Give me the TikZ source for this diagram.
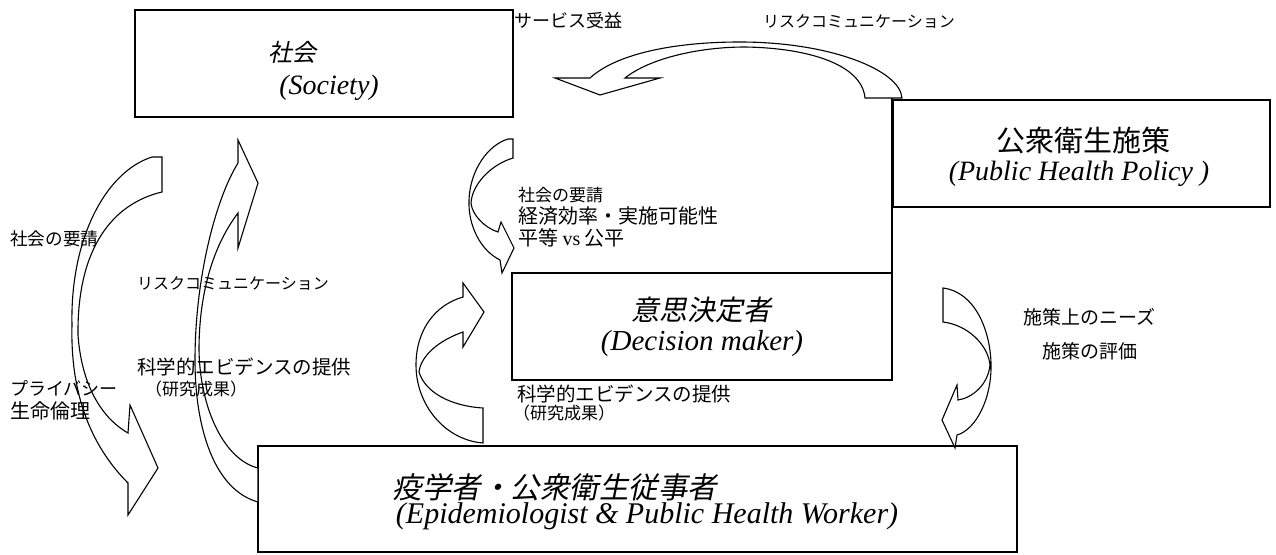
\documentclass[tikz,border=0pt]{standalone}
\usepackage{fontspec}
\setmainfont{Liberation Serif}
\newfontfamily\jp{Noto Sans CJK JP}
\newfontfamily\jpit[FakeSlant=0.2]{Noto Sans CJK JP}
\begin{document}
\begin{tikzpicture}[x=1pt,y=-1pt,
  box/.style={draw, line width=1.3pt, inner sep=0pt, outer sep=0pt},
  boxline/.style={line width=1.3pt},
  blockarrow/.style={draw, fill=white, line width=1.1pt, line join=miter},
  lbl/.style={font=\jp\fontsize{#1}{#1}\selectfont, anchor=west, inner sep=0pt},
  bigjp/.style={font=\jpit\fontsize{#1}{#1}\selectfont, inner sep=0pt},
  bigjpup/.style={font=\jp\fontsize{#1}{#1}\selectfont, inner sep=0pt},
  bigen/.style={font=\itshape\fontsize{#1}{#1}\selectfont, inner sep=0pt}]
\useasboundingbox (0,0) rectangle (1276,554);
\fill[white] (0,0) rectangle (1276,554);

% boxes
\node[box, minimum width=378pt, minimum height=107pt] (soc) at (324,63.5) {};
\node[box, minimum width=377pt, minimum height=107pt] (php) at (1081.5,153.5) {};
\node[box, minimum width=380pt, minimum height=107pt] (dm) at (702,326.5) {};
\node[box, minimum width=759pt, minimum height=106pt] (epi) at (637.5,499) {};
\coordinate (tailA) at (892,98);
\draw[boxline] (tailA) -- (dm.north east);

% arrow A (top, risk communication -> society)
\draw[blockarrow] (865,98) -- (902,98)
  .. controls (900,70) and (830,42) .. (740,42)
  .. controls (670,42) and (615,55) .. (590,78)
  -- (555,78) -- (600,95) -- (660,78) -- (625,78)
  .. controls (650,58) and (700,47) .. (745,47)
  .. controls (810,48) and (862,65) .. (865,98) -- cycle;

% arrow B (left, society -> epidemiologist)
\draw[blockarrow] (152,157) -- (162,157) -- (162,192)
  .. controls (115,203) and (77,245) .. (78,335)
  .. controls (82,390) and (105,420) .. (128,433)
  -- (130,405) -- (158,468) -- (128,515) -- (128,483)
  .. controls (95,450) and (70,400) .. (72,325)
  .. controls (70,240) and (105,172) .. (152,157) -- cycle;

% arrow C (left middle, epidemiologist -> society)
\draw[blockarrow] (258,502)
  .. controls (215,490) and (195,430) .. (195,360)
  .. controls (195,280) and (215,200) .. (238,163)
  -- (238,140) -- (258,183) -- (238,248) -- (238,213)
  .. controls (210,250) and (199,300) .. (199,350)
  .. controls (200,410) and (225,460) .. (258,468) -- cycle;

% arrow D (middle, society -> decision maker)
\draw[blockarrow] (508,139) -- (513,139) -- (513,158)
  .. controls (490,165) and (472,185) .. (471,203)
  .. controls (472,215) and (485,228) .. (498,232)
  -- (501,222) -- (514,248) -- (502,273) -- (500,260)
  .. controls (480,250) and (468,225) .. (469,200)
  .. controls (470,170) and (488,145) .. (508,139) -- cycle;

% arrow E (middle lower, epidemiologist -> decision maker)
\draw[blockarrow] (483,443)
  .. controls (445,440) and (416,405) .. (416,365)
  .. controls (416,330) and (435,305) .. (463,297)
  -- (463,283) -- (484,312) -- (463,347) -- (463,332)
  .. controls (440,340) and (421,355) .. (419,372)
  .. controls (425,392) and (450,406) .. (483,408) -- cycle;

% arrow F (right, decision maker -> epidemiologist)
\draw[blockarrow] (943,288)
  .. controls (975,292) and (990,330) .. (991,363)
  .. controls (992,400) and (975,430) .. (957,435)
  -- (955,448) -- (942,420) -- (957,385) -- (958,400)
  .. controls (972,398) and (988,385) .. (990,365)
  .. controls (988,345) and (968,325) .. (943,322) -- cycle;

% box texts
\node[bigjp=24] (socjp) at (292,52) {社会};
\node[bigen=28] (socen) at (329,88) {(Society)};
\node[bigjpup=29] (phpjp) at (1083,140) {公衆衛生施策};
\node[bigen=28] (phpen) at (1079,174) {(Public Health Policy )};
\node[bigjp=28] (dmjp) at (701,310) {意思決定者};
\node[bigen=29] (dmen) at (702,344) {(Decision maker)};
\node[bigjp=29.5] (epijp) at (555,487) {疫学者・公衆衛生従事者};
\node[bigen=30] (epien) at (647,516) {(Epidemiologist \& Public Health Worker)};

% labels
\node[lbl=18] (sv) at (514,21) {サービス受益};
\node[lbl=16] (rc1) at (763,21) {リスクコミュニケーション};
\node[lbl=17] (m1) at (518,195) {社会の要請};
\node[lbl=20] (m2) at (518,216) {経済効率・実施可能性};
\node[lbl=20] (m3) at (518,238) {平等 {\rmfamily vs} 公平};
\node[lbl=19] (n1) at (1023,317) {施策上のニーズ};
\node[lbl=19] (n2) at (1042,351) {施策の評価};
\node[lbl=19.5] (e1) at (517,394) {科学的エビデンスの提供};
\node[lbl=17] (e2) at (513,413) {（研究成果）};
\node[lbl=17.6] (l1) at (10,239) {社会の要請};
\node[lbl=16] (rc2) at (137,283) {リスクコミュニケーション};
\node[lbl=19.5] (le1) at (137,367) {科学的エビデンスの提供};
\node[lbl=17] (le2) at (145,389) {（研究成果）};
\node[lbl=18] (p1) at (10,388) {プライバシー};
\node[lbl=20] (p2) at (10,411) {生命倫理};
\end{tikzpicture}
\end{document}
